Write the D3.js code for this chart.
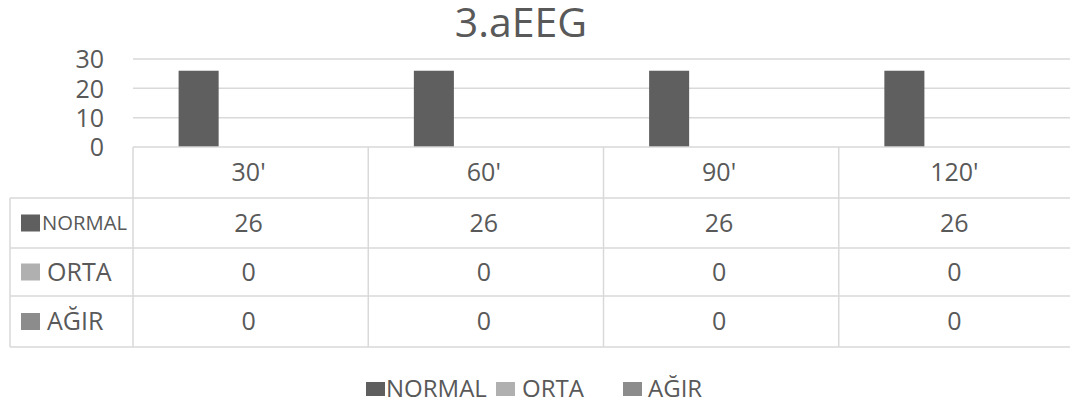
<!DOCTYPE html>
<html><head><meta charset="utf-8">
<script src="https://cdn.jsdelivr.net/npm/d3@7"></script>
<style>body{margin:0;background:#fff}svg{display:block}text{font-family:"Open Sans",sans-serif;fill:#595959}</style>
</head><body>
<script>
const categories = ["30'", "60'", "90'", "120'"];
const seriesNames = ["NORMAL", "ORTA", "AĞIR"];
const normalValues = [26, 26, 26, 26];
const ortaValues = [0, 0, 0, 0];
const agirValues = [0, 0, 0, 0];
const yTicks = [0, 10, 20, 30];
const title = "3.aEEG";

const seriesValues = [normalValues, ortaValues, agirValues];
const colors = ["#5f5f5f", "#b0b0b0", "#8c8c8c"];
const W = 1070, H = 407;
const svg = d3.select("body").append("svg").attr("width", W).attr("height", H);

const pLeft = 133, pRight = 1074, pTop = 59, pBottom = 147;
const x = d3.scaleBand().domain(categories).range([pLeft, pRight]);
const y = d3.scaleLinear().domain([0, 30]).range([pBottom, pTop]);
const cw = x.bandwidth();
const xs = d3.scaleBand().domain(seriesNames).range([cw/2 - 78, cw/2 + 78]).paddingInner(0.23).paddingOuter(0.115);

svg.append("text").attr("x", 521).attr("y", 37).attr("text-anchor", "middle").attr("font-size", 41).text(title);

// gridlines
svg.append("g").selectAll("line").data(yTicks.filter(d => d > 0)).join("line")
  .attr("x1", pLeft).attr("x2", pRight).attr("y1", d => y(d)).attr("y2", d => y(d))
  .attr("stroke", "#d9d9d9").attr("stroke-width", 1.5);

// y axis labels
const yAxis = d3.axisLeft(y).tickValues(yTicks).tickSize(0).tickPadding(0);
const ga = svg.append("g").attr("transform", "translate(104,0)").call(yAxis);
ga.select(".domain").remove();
ga.selectAll("text").attr("font-size", 25).attr("fill", "#595959").style("font-family", '"Open Sans",sans-serif').attr("dy", "0.35em");

// bars
seriesNames.forEach((s, si) => {
  svg.append("g").selectAll("rect").data(seriesValues[si]).join("rect")
    .attr("x", (d, i) => x(categories[i]) + xs(s))
    .attr("width", xs.bandwidth())
    .attr("y", d => y(d)).attr("height", d => y(0) - y(d))
    .attr("fill", colors[si]);
});

// table
const rowY = [147, 198, 248, 296, 347];
const tLeft = 10;
const grid = svg.append("g").attr("stroke", "#d9d9d9").attr("stroke-width", 1.5);
grid.append("line").attr("x1", pLeft).attr("x2", pRight).attr("y1", rowY[0]).attr("y2", rowY[0]);
rowY.slice(1).forEach(yy => grid.append("line").attr("x1", tLeft).attr("x2", pRight).attr("y1", yy).attr("y2", yy));
grid.append("line").attr("x1", tLeft).attr("x2", tLeft).attr("y1", rowY[1]).attr("y2", rowY[4]);
categories.forEach(c => grid.append("line").attr("x1", x(c)).attr("x2", x(c)).attr("y1", rowY[0]).attr("y2", rowY[4]));

categories.forEach(c => {
  svg.append("text").attr("x", x(c) + cw/2 - 2).attr("y", (rowY[0] + rowY[1]) / 2).attr("dy", "0.35em")
    .attr("text-anchor", "middle").attr("font-size", 25).text(c);
});
seriesNames.forEach((s, si) => {
  const cy = (rowY[si + 1] + rowY[si + 2]) / 2;
  svg.append("rect").attr("x", 21).attr("y", cy - 8.5).attr("width", 19).attr("height", 17).attr("fill", colors[si]);
  const t = svg.append("text").attr("x", si === 0 ? 42 : 47).attr("y", cy).attr("dy", "0.35em")
    .attr("font-size", si === 0 ? 20 : 25).text(s);
  if (si === 0) t.attr("textLength", 85).attr("lengthAdjust", "spacingAndGlyphs");
  seriesValues[si].forEach((v, i) => {
    svg.append("text").attr("x", x(categories[i]) + cw/2 - 2).attr("y", cy).attr("dy", "0.35em")
      .attr("text-anchor", "middle").attr("font-size", 25).text(v);
  });
});

// legend
const legend = [{x: 366, tx: 386}, {x: 496, tx: 522}, {x: 623, tx: 648}];
seriesNames.forEach((s, si) => {
  svg.append("rect").attr("x", legend[si].x).attr("y", 382).attr("width", 19).attr("height", 14).attr("fill", colors[si]);
  svg.append("text").attr("x", legend[si].tx).attr("y", 389).attr("dy", "0.35em").attr("font-size", 24).text(s);
});
</script>
</body></html>
